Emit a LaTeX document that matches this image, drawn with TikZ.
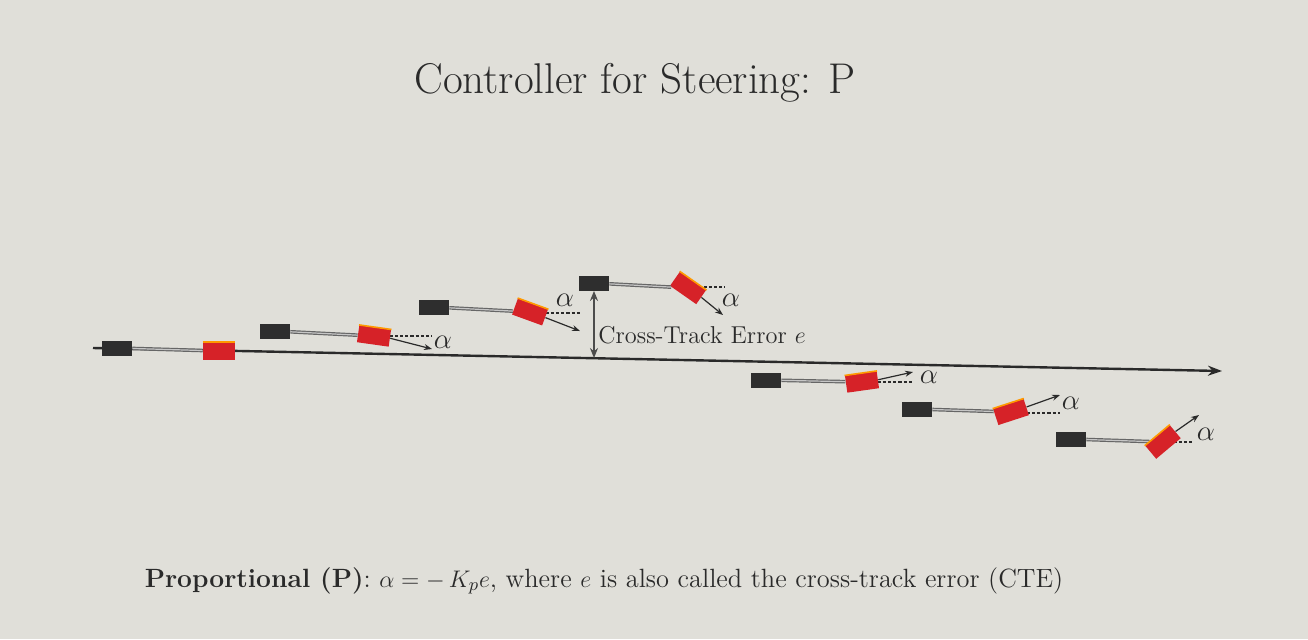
\documentclass[tikz,border=0pt]{standalone}
\usepackage{amsmath}
\usetikzlibrary{arrows.meta}
\definecolor{slidebg}{RGB}{224,223,217}
\definecolor{cabred}{RGB}{214,34,40}
\definecolor{inkgray}{RGB}{42,42,42}

\begin{document}
\begin{tikzpicture}[
    x=0.5pt, y=-0.5pt,
    rear/.style={fill=black!82, minimum width=15pt, minimum height=7.5pt, inner sep=0pt},
    front/.style={fill=cabred, minimum width=16pt, minimum height=8.5pt, inner sep=0pt},
    rod/.style={draw=black!60, line width=1.8pt, postaction={draw=gray!45, line width=0.6pt}},
    topedge/.style={draw=orange!80!yellow, line width=0.8pt},
    steer/.style={-{Stealth[length=4pt,width=3pt]}, line width=0.6pt, draw=inkgray},
    heading/.style={dash pattern=on 1.6pt off 1pt, line width=0.7pt, draw=inkgray},
    alab/.style={font=\fontsize{15}{15}\selectfont, text=inkgray, inner sep=0pt},
    every node/.style={text=inkgray}
    ]
    \fill[slidebg] (0,0) rectangle (1308,639);

    % title and caption
    \node[anchor=base, font=\fontsize{21.5}{26}\selectfont] (title) at (635,93) {Controller for Steering: P};
    \node[anchor=base, font=\fontsize{13.2}{16}\selectfont] (caption) at (604,587)
        {\textbf{Proportional (P)}: $\alpha = -\,K_{p}e$, where $e$ is also called the cross-track error (CTE)};

    % reference path
    \coordinate (ls) at (93,348);
    \coordinate (le) at (1222,371);
    \draw[line width=1.2pt, draw=inkgray, -{Stealth[length=7pt,width=5pt]}] (ls) -- (le);

    % car 1
    \node[rear] (r1) at (117,348) {};
    \node[front] (f1) at (219,351) {};
    \draw[rod] (r1) -- (f1);
    \draw[topedge] (f1.north west) -- (f1.north east);

    % car 2
    \coordinate (d2) at (432,336);
    \coordinate (a2) at (432,349);
    \draw[heading] (374,336) -- (d2);
    \node[rear] (r2) at (275,331) {};
    \node[front, rotate=-8] (f2) at (374,336) {};
    \draw[rod] (r2) -- (f2);
    \draw[topedge] (f2.north west) -- (f2.north east);
    \draw[steer] (f2.east) -- (a2);
    \node[alab] (al2) at (443,342) {$\alpha$};

    % car 3
    \coordinate (d3) at (582,313);
    \coordinate (a3) at (580,331);
    \draw[heading] (530,313) -- (d3);
    \node[rear] (r3) at (434,307) {};
    \node[front, rotate=-20] (f3) at (530,312) {};
    \draw[rod] (r3) -- (f3);
    \draw[topedge] (f3.north west) -- (f3.north east);
    \draw[steer] (f3.east) -- (a3);
    \node[alab] (al3) at (565,300) {$\alpha$};

    % car 4
    \coordinate (d4) at (725,287);
    \coordinate (a4) at (723,315);
    \draw[heading] (688,287) -- (d4);
    \node[rear] (r4) at (594,283) {};
    \node[front, rotate=-35] (f4) at (688,288) {};
    \draw[rod] (r4) -- (f4);
    \draw[topedge] (f4.north west) -- (f4.north east);
    \draw[steer] (f4.east) -- (a4);
    \node[alab] (al4) at (731,300) {$\alpha$};

    % cross-track error
    \coordinate (cte) at (594,358);
    \draw[{Stealth[length=5pt,width=4pt]}-{Stealth[length=5pt,width=4pt]}, line width=0.8pt, draw=black!70] (r4.south) -- (cte);
    \node[anchor=base west, font=\fontsize{12.2}{14}\selectfont, inner sep=0pt] (ctelab) at (598,343) {Cross-Track Error $e$};

    % car 5
    \coordinate (d5) at (913,382);
    \coordinate (a5) at (913,372);
    \draw[heading] (862,382) -- (d5);
    \node[rear] (r5) at (766,380) {};
    \node[front, rotate=8] (f5) at (862,382) {};
    \draw[rod] (r5) -- (f5);
    \draw[topedge] (f5.north west) -- (f5.north east);
    \draw[steer] (f5.east) -- (a5);
    \node[alab] (al5) at (929,377) {$\alpha$};

    % car 6
    \coordinate (d6) at (1060,413);
    \coordinate (a6) at (1060,395);
    \draw[heading] (1011,413) -- (d6);
    \node[rear] (r6) at (917,409) {};
    \node[front, rotate=18] (f6) at (1011,412) {};
    \draw[rod] (r6) -- (f6);
    \draw[topedge] (f6.north west) -- (f6.north east);
    \draw[steer] (f6.east) -- (a6);
    \node[alab] (al6) at (1071,403) {$\alpha$};

    % car 7
    \coordinate (d7) at (1194,442);
    \coordinate (a7) at (1199,415);
    \draw[heading] (1163,442) -- (d7);
    \node[rear] (r7) at (1071,439) {};
    \node[front, rotate=40] (f7) at (1163,442) {};
    \draw[rod] (r7) -- (f7);
    \draw[topedge] (f7.north west) -- (f7.north east);
    \draw[steer] (f7.east) -- (a7);
    \node[alab] (al7) at (1206,434) {$\alpha$};
\end{tikzpicture}
\end{document}
